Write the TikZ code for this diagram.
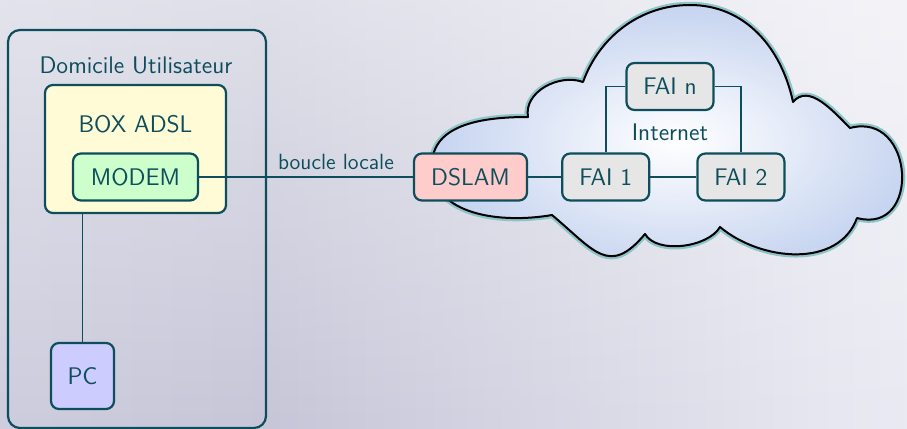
\documentclass[tikz,border=0pt]{standalone}
\usetikzlibrary{positioning,fadings}
\definecolor{encre}{RGB}{14,78,92}
\definecolor{jaune}{RGB}{255,251,214}
\definecolor{vert}{RGB}{204,255,204}
\definecolor{lavande}{RGB}{204,204,255}
\definecolor{rose}{RGB}{255,204,204}
\definecolor{gris}{RGB}{230,230,230}
\definecolor{ciel}{RGB}{198,212,240}
\definecolor{lueur}{RGB}{140,196,200}
\definecolor{fondA}{RGB}{216,216,230}
\definecolor{fondB}{RGB}{198,198,216}
\definecolor{fondC}{RGB}{230,230,240}
\definecolor{fondD}{RGB}{252,252,254}
\pgfdeclarehorizontalshading{fondecran}{100bp}{color(0bp)=(fondA); color(40bp)=(fondB); color(70bp)=(fondC); color(100bp)=(fondD)}
\tikzstyle{boite} = [rectangle,rounded corners=4pt,draw=encre,line width=1.1pt,text=encre,minimum height=23.5pt,inner sep=2pt]
\tikzstyle{fai} = [boite,fill=gris,minimum width=43.5pt]
\tikzstyle{cadre} = [rectangle,rounded corners=6pt,draw=encre,line width=1.1pt]
\tikzstyle{lien} = [draw=encre,line width=0.8pt]
\tikzstyle{nuage} = [draw=black,line width=1pt,line join=round,shading=radial,inner color=white,outer color=ciel,preaction={draw=lueur,line width=3.2pt,line join=round}]

\begin{document}
\begin{tikzpicture}[x=0.5pt,y=0.5pt]
\tikzstyle{every node}=[font=\sffamily\fontsize{12}{14}\selectfont,text=encre]

% fond
\useasboundingbox (0,0) rectangle (907,-429);
\shade[shading=fondecran] (0,0) rectangle (907,-429);
\fill[white,path fading=south,fill opacity=0.45] (0,0) rectangle (907,-429);

% nuage Internet
\path[nuage] (528,-117) to[out=100,in=160] (583,-82)
  to[out=70,in=180,looseness=0.95] (690,-5)
  to[out=0,in=102] (793,-102)
  to[out=50,in=135] (850,-128)
  to[out=15,in=-15,looseness=1.9] (857,-218)
  to[out=-110,in=-40] (720,-227)
  to[out=-120,in=-60,looseness=0.8] (645,-234)
  to[out=-130,in=-40,looseness=1.5] (552,-215)
  to[out=-170,in=-90] (432,-165)
  to[out=90,in=180] (528,-117) -- cycle;

% domicile
\node (domicile) [cadre,minimum width=129pt,minimum height=199pt] at (137,-229) {};
\node (titredom) at (136,-65) {Domicile Utilisateur};
\node (box) [boite,fill=jaune,minimum width=90.5pt,minimum height=64pt] at (135.5,-149) {};
\node (titrebox) at (135.5,-124) {BOX ADSL};
\node (modem) [boite,fill=vert,minimum width=62.5pt] at (135.5,-177) {MODEM};
\node (pc) [boite,fill=lavande,minimum width=31.5pt,minimum height=33pt] at (82.5,-376) {PC};

% reseau
\node (dslam) [boite,fill=rose,minimum width=56.5pt] at (470.5,-177) {DSLAM};
\node (fai1) [fai,right=16.5pt of dslam] {FAI 1};
\node (fai2) [fai,right=23pt of fai1] {FAI 2};
\node (fain) [fai] at (670,-86.5) {FAI n};
\node (internet) at (670,-132) {Internet};

\draw[lien] (modem) -- node[above,pos=0.64,font=\sffamily\fontsize{11}{13}\selectfont] {boucle locale} (dslam);
\draw[lien] (pc) -- (pc |- box.south);
\draw[lien] (dslam) -- (fai1);
\draw[lien] (fai1) -- (fai2);
\draw[lien] (fain.west) -| (fai1);
\draw[lien] (fain.east) -| (fai2);

\end{tikzpicture}
\end{document}
